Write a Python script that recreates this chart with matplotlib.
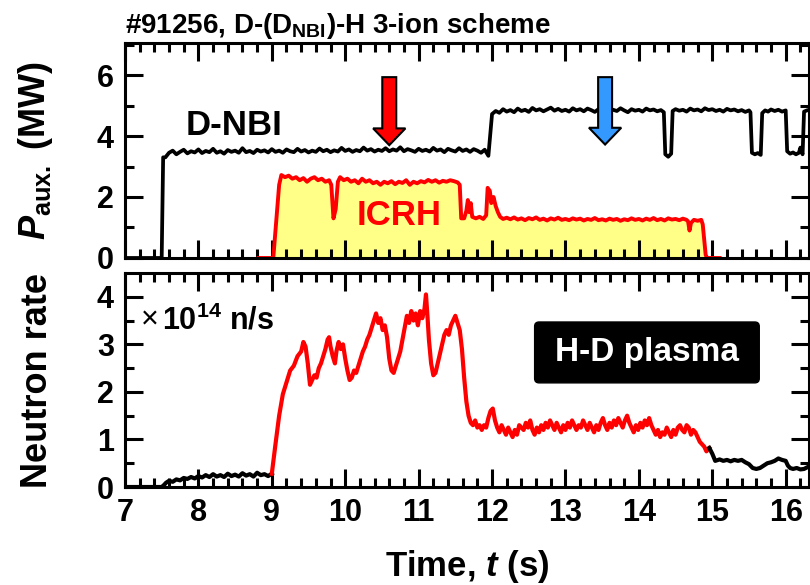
import numpy as np
import matplotlib
matplotlib.use("Agg")
import matplotlib.pyplot as plt
from matplotlib.patches import FancyArrow, FancyBboxPatch

plt.rcParams['font.family'] = ['Liberation Sans', 'DejaVu Sans']
plt.rcParams['font.weight'] = 'bold'
plt.rcParams['axes.labelweight'] = 'bold'
plt.rcParams['axes.titleweight'] = 'bold'
plt.rcParams['mathtext.fontset'] = 'custom'
plt.rcParams['mathtext.rm'] = 'Liberation Sans:bold'
plt.rcParams['mathtext.bf'] = 'Liberation Sans:bold'
plt.rcParams['mathtext.it'] = 'Liberation Sans:italic:bold'

# D-NBI power (MW)
nbi_t = [7.0, 7.5, 7.52,
         7.55, 7.60, 7.65, 7.70, 7.75, 7.80, 7.85, 7.90, 7.95, 8.00, 8.05, 8.10, 8.15, 8.20, 8.25, 8.30,
         8.35, 8.40, 8.45, 8.50, 8.55, 8.60, 8.65, 8.70, 8.75, 8.80, 8.85, 8.90, 8.95, 9.00, 9.05, 9.10,
         9.15, 9.20, 9.25, 9.30, 9.35, 9.40, 9.45, 9.50, 9.55, 9.60, 9.65, 9.70, 9.75, 9.80, 9.85, 9.90,
         9.95, 10.00, 10.05, 10.10, 10.15, 10.20, 10.25, 10.30, 10.35, 10.40, 10.45, 10.50, 10.55, 10.60,
         10.65, 10.70, 10.75, 10.80, 10.85, 10.90, 10.95, 11.00, 11.05, 11.10, 11.15, 11.20, 11.25, 11.30,
         11.35, 11.40, 11.45, 11.50, 11.55, 11.60, 11.65, 11.70, 11.75, 11.80, 11.85, 11.90, 11.95,
         12.00, 12.05, 12.10, 12.15, 12.20, 12.25, 12.30, 12.35, 12.40, 12.45, 12.50, 12.55, 12.60, 12.65,
         12.70, 12.75, 12.80, 12.85, 12.90, 12.95, 13.00, 13.05, 13.10, 13.15, 13.20, 13.25, 13.30, 13.35,
         13.40, 13.45, 13.50, 13.55, 13.60, 13.65, 13.70, 13.75, 13.80, 13.85, 13.90, 13.95, 14.00, 14.05,
         14.10, 14.15, 14.20, 14.25, 14.30, 14.34, 14.36, 14.40, 14.44, 14.46, 14.50, 14.55, 14.60, 14.65,
         14.70, 14.75, 14.80, 14.85, 14.90, 14.95, 15.00, 15.05, 15.10, 15.15, 15.20, 15.25, 15.30, 15.35,
         15.40, 15.45, 15.50, 15.52, 15.54, 15.58, 15.62, 15.66, 15.68, 15.72, 15.76, 15.80, 15.85, 15.90,
         15.95, 16.00, 16.02, 16.06, 16.10, 16.14, 16.18, 16.20, 16.23, 16.25, 16.30, 16.35]
nbi_p = [0.0, 0.0, 3.30,
         3.30, 3.45, 3.52, 3.40, 3.48, 3.55, 3.43, 3.50, 3.46, 3.56, 3.44, 3.51, 3.47, 3.58, 3.45, 3.50,
         3.42, 3.54, 3.48, 3.52, 3.45, 3.60, 3.47, 3.51, 3.44, 3.55, 3.49, 3.53, 3.46, 3.57, 3.48, 3.52,
         3.45, 3.56, 3.50, 3.47, 3.58, 3.49, 3.54, 3.46, 3.52, 3.48, 3.59, 3.50, 3.55, 3.47, 3.53, 3.49,
         3.61, 3.51, 3.56, 3.48, 3.54, 3.50, 3.62, 3.52, 3.57, 3.49, 3.55, 3.51, 3.60, 3.50,
         3.56, 3.52, 3.63, 3.50, 3.57, 3.53, 3.48, 3.58, 3.51, 3.55, 3.49, 3.61, 3.52, 3.56,
         3.47, 3.58, 3.53, 3.49, 3.60, 3.51, 3.56, 3.48, 3.57, 3.52, 3.45, 3.55, 3.35,
         4.72, 4.82, 4.76, 4.88, 4.80, 4.85, 4.78, 4.90, 4.82, 4.86, 4.79, 4.92, 4.84, 4.88,
         4.81, 4.87, 4.93, 4.83, 4.89, 4.82, 4.86, 4.80, 4.91, 4.84, 4.88, 4.81, 4.90, 4.85,
         4.79, 4.88, 4.83, 4.87, 4.80, 4.86, 4.82, 4.91, 4.84, 4.78, 4.88, 4.83, 4.86, 4.80,
         4.90, 4.84, 4.87, 4.81, 4.85, 4.78, 3.40, 3.32, 3.42, 4.82, 4.88, 4.83, 4.86, 4.80,
         4.90, 4.84, 4.87, 4.81, 4.91, 4.85, 4.88, 4.82, 4.86, 4.80, 4.89, 4.84, 4.87, 4.81,
         4.85, 4.79, 4.84, 4.78, 3.45, 3.40, 3.44, 3.38, 4.75, 4.84, 4.80, 4.87, 4.82, 4.86,
         4.80, 4.84, 3.50, 3.42, 3.46, 3.40, 3.45, 3.62, 3.40, 4.80, 4.85, 4.82]

# ICRH power (MW)
icrh_t = [8.82, 9.02, 9.06, 9.10, 9.13, 9.18, 9.23, 9.28, 9.33, 9.38, 9.43, 9.48, 9.53, 9.58, 9.63,
          9.68, 9.73, 9.78, 9.81, 9.84, 9.87, 9.90, 9.93, 9.98, 10.03, 10.08, 10.13, 10.18, 10.23,
          10.28, 10.33, 10.38, 10.43, 10.48, 10.53, 10.58, 10.63, 10.68, 10.73, 10.78, 10.83, 10.88,
          10.93, 10.98, 11.03, 11.08, 11.13, 11.18, 11.23, 11.28, 11.33, 11.38, 11.43, 11.48, 11.53,
          11.56, 11.58, 11.62, 11.65, 11.67, 11.69, 11.71, 11.73, 11.78, 11.83, 11.88, 11.92, 11.94,
          11.97, 11.99, 12.02, 12.05, 12.08, 12.11, 12.15,
          12.20, 12.25, 12.30, 12.35, 12.40, 12.45, 12.50, 12.55, 12.60, 12.65, 12.70, 12.75, 12.80,
          12.85, 12.90, 12.95, 13.00, 13.05, 13.10, 13.15, 13.20, 13.25, 13.30, 13.35, 13.40, 13.45,
          13.50, 13.55, 13.60, 13.65, 13.70, 13.75, 13.80, 13.85, 13.90, 13.95, 14.00, 14.05, 14.10,
          14.15, 14.20, 14.25, 14.30, 14.35, 14.40, 14.45, 14.50, 14.55, 14.60, 14.65,
          14.67, 14.69, 14.71, 14.75, 14.80, 14.85, 14.87, 14.91, 14.93, 15.10]
icrh_p = [0.0, 0.0, 1.20, 2.40, 2.72, 2.65, 2.70, 2.60, 2.65, 2.55, 2.62, 2.50, 2.60, 2.65, 2.55,
          2.60, 2.50, 2.55, 2.40, 1.30, 1.60, 2.50, 2.65, 2.55, 2.60, 2.50, 2.55, 2.45, 2.60,
          2.50, 2.55, 2.45, 2.50, 2.40, 2.50, 2.45, 2.52, 2.42, 2.50, 2.46, 2.55, 2.40,
          2.50, 2.45, 2.52, 2.48, 2.56, 2.50, 2.55, 2.47, 2.53, 2.50, 2.55, 2.52, 2.48,
          2.40, 1.30, 1.30, 1.55, 1.90, 1.50, 1.80, 1.35, 1.30, 1.35, 1.28, 1.40, 2.30,
          2.20, 1.80, 2.00, 1.70, 1.50, 1.35, 1.28,
          1.32, 1.27, 1.33, 1.26, 1.30, 1.24, 1.31, 1.27, 1.33, 1.25, 1.29, 1.23, 1.30,
          1.26, 1.32, 1.25, 1.28, 1.24, 1.30, 1.26, 1.29, 1.23, 1.28, 1.25, 1.31, 1.24,
          1.27, 1.23, 1.29, 1.25, 1.28, 1.22, 1.27, 1.24, 1.30, 1.25, 1.28, 1.23, 1.29,
          1.25, 1.31, 1.24, 1.28, 1.23, 1.30, 1.26, 1.28, 1.24, 1.29, 1.25,
          1.20, 0.90, 1.15, 1.25, 1.22, 1.25, 1.10, 0.10, 0.0, 0.0]

# neutron rate (1e14 n/s): before ICRH, during ICRH, after ICRH
n_pre_t = [7.0, 7.5, 7.53, 7.56, 7.60, 7.65, 7.70, 7.75, 7.80, 7.85, 7.90, 7.95, 8.00, 8.05, 8.10,
           8.15, 8.20, 8.25, 8.30, 8.35, 8.40, 8.45, 8.50, 8.55, 8.60, 8.65, 8.70, 8.75, 8.80, 8.85,
           8.90, 8.95, 9.00]
n_pre = [0.0, 0.0, 0.04, 0.09, 0.13, 0.11, 0.16, 0.14, 0.19, 0.17, 0.21, 0.18, 0.23, 0.20, 0.25,
         0.21, 0.27, 0.22, 0.25, 0.21, 0.28, 0.23, 0.26, 0.22, 0.29, 0.24, 0.27, 0.22, 0.30, 0.25,
         0.27, 0.23, 0.28]

n_rf_t = [9.00, 9.05, 9.10, 9.15, 9.20, 9.25, 9.30, 9.35, 9.40, 9.43, 9.46, 9.49, 9.52, 9.55, 9.58,
          9.61, 9.64, 9.67, 9.70, 9.73, 9.76, 9.78, 9.80, 9.83, 9.86, 9.88, 9.91, 9.94, 9.97, 10.00,
          10.03, 10.06, 10.09, 10.12, 10.15, 10.18, 10.21, 10.24, 10.27, 10.30, 10.33, 10.36, 10.39,
          10.42, 10.45, 10.48, 10.51, 10.54, 10.57, 10.60, 10.63, 10.66, 10.69, 10.72, 10.75, 10.78,
          10.81, 10.84, 10.87, 10.90, 10.93, 10.96, 10.99, 11.02, 11.05, 11.08, 11.10, 11.12, 11.14,
          11.17, 11.20, 11.23, 11.26, 11.29, 11.32, 11.35, 11.38, 11.41, 11.44, 11.47, 11.50, 11.53,
          11.56, 11.59, 11.62, 11.65, 11.68, 11.71, 11.74, 11.77, 11.80, 11.83, 11.86, 11.89, 11.92,
          11.95, 11.98, 12.01, 12.04, 12.07, 12.10, 12.13, 12.16, 12.19, 12.22, 12.25, 12.28, 12.31,
          12.34, 12.37, 12.40, 12.43, 12.46, 12.49, 12.52, 12.55, 12.58, 12.61, 12.64, 12.67, 12.70,
          12.73, 12.76, 12.79, 12.82, 12.85, 12.88, 12.91, 12.94, 12.97, 13.00, 13.03, 13.06, 13.09,
          13.12, 13.15, 13.18, 13.21, 13.24, 13.27, 13.30, 13.33, 13.36, 13.39, 13.42, 13.45, 13.48,
          13.51, 13.54, 13.57, 13.60, 13.63, 13.66, 13.69, 13.72, 13.75, 13.78, 13.81, 13.84, 13.87,
          13.90, 13.93, 13.96, 13.99, 14.02, 14.05, 14.08, 14.11, 14.14, 14.17, 14.20, 14.23, 14.26,
          14.29, 14.32, 14.35, 14.38, 14.41, 14.44, 14.47, 14.50, 14.53, 14.56, 14.59, 14.62, 14.65,
          14.68, 14.71, 14.74, 14.77, 14.80, 14.83, 14.86, 14.89, 14.92, 14.96]
n_rf = [0.28, 0.90, 1.50, 1.95, 2.20, 2.45, 2.55, 2.75, 2.85, 3.05, 2.95, 2.60, 2.15, 2.25, 2.35,
        2.30, 2.50, 2.60, 2.75, 2.90, 3.10, 3.15, 2.95, 2.75, 2.60, 2.85, 3.05, 2.90, 3.00, 2.70,
        2.45, 2.25, 2.30, 2.45, 2.40, 2.55, 2.70, 2.85, 2.95, 3.10, 3.20, 3.35, 3.50,
        3.65, 3.45, 3.55, 3.30, 3.40, 3.15, 2.70, 2.45, 2.40, 2.55, 2.70, 2.85, 3.10,
        3.35, 3.60, 3.45, 3.70, 3.50, 3.65, 3.40, 3.70, 3.55, 3.75, 4.05, 3.60, 3.10,
        2.60, 2.35, 2.40, 2.60, 2.80, 3.00, 3.20, 3.30, 3.20, 3.40, 3.50, 3.60, 3.45,
        3.30, 2.90, 2.30, 1.80, 1.50, 1.35, 1.30, 1.40, 1.25, 1.30, 1.20, 1.30, 1.25,
        1.45, 1.60, 1.65, 1.40, 1.25, 1.15, 1.30, 1.20, 1.10, 1.25, 1.15, 1.05, 1.20,
        1.10, 1.30, 1.25, 1.20, 1.35, 1.25, 1.40, 1.20, 1.10, 1.25, 1.15, 1.30, 1.20,
        1.35, 1.25, 1.40, 1.30, 1.20, 1.35, 1.25, 1.15, 1.30, 1.20, 1.35, 1.25, 1.40,
        1.30, 1.20, 1.30, 1.25, 1.40, 1.30, 1.20, 1.35, 1.25, 1.15, 1.30, 1.20, 1.35,
        1.45, 1.30, 1.20, 1.35, 1.25, 1.40, 1.30, 1.45, 1.35, 1.25, 1.40, 1.50, 1.35,
        1.25, 1.15, 1.30, 1.20, 1.35, 1.25, 1.40, 1.30, 1.45, 1.30, 1.20, 1.10, 1.20,
        1.05, 1.15, 1.10, 1.25, 1.15, 1.05, 1.20, 1.10, 1.25, 1.30, 1.20, 1.15, 1.30,
        1.25, 1.10, 1.20, 1.15, 1.05, 0.95, 0.90, 0.85, 0.75, 0.82]

n_post_t = [14.96, 15.00, 15.04, 15.10, 15.15, 15.20, 15.25, 15.30, 15.35, 15.40, 15.45, 15.50,
            15.55, 15.60, 15.65, 15.70, 15.75, 15.80, 15.85, 15.90, 15.95, 16.00, 16.03, 16.06,
            16.10, 16.15, 16.20, 16.25, 16.30, 16.35]
n_post = [0.82, 0.70, 0.55, 0.58, 0.55, 0.57, 0.54, 0.57, 0.55, 0.57, 0.52, 0.48,
          0.40, 0.38, 0.40, 0.45, 0.50, 0.52, 0.55, 0.60, 0.57, 0.55, 0.45, 0.40,
          0.38, 0.40, 0.37, 0.38, 0.42, 0.45]


def style_axes(ax, ymax, ymajor, yminor):
    ax.set_xlim(7, 16.32)
    ax.set_ylim(0, ymax)
    ax.set_xticks(np.arange(7, 17, 1))
    ax.set_xticks(np.arange(7, 16.4, 0.2), minor=True)
    ax.set_yticks(np.arange(0, ymax, ymajor))
    ax.set_yticks(np.arange(0, ymax, yminor), minor=True)
    ax.tick_params(which='both', direction='in', top=True, right=True, width=2.2, labelsize=22)
    ax.tick_params(which='major', length=13, pad=8)
    ax.tick_params(which='minor', length=6.5)
    for s in ax.spines.values():
        s.set_linewidth(2.2)


fig = plt.figure(figsize=(8.1, 5.85), dpi=100)
ax1 = fig.add_axes([0.1543, 0.559, 0.8447, 0.3675])
ax2 = fig.add_axes([0.1543, 0.1675, 0.8447, 0.3658])

# top: auxiliary heating
style_axes(ax1, 7.05, 2, 1)
ax1.tick_params(labelbottom=False)
ax1.fill_between(icrh_t, icrh_p, 0, color='#ffff88', lw=0)
ax1.plot(icrh_t, icrh_p, color='#ff0000', lw=2.8, clip_on=False)
ax1.plot(nbi_t, nbi_p, color='black', lw=2.7)
ax1.text(7.82, 4.35, 'D-NBI', fontsize=25, va='center', ha='left')
ax1.text(10.74, 1.4, 'ICRH', fontsize=25, color='#ff0000', va='center', ha='center')
ax1.add_patch(FancyArrow(10.6, 5.93, 0, 3.7 - 5.93, width=0.19, head_width=0.44, head_length=0.55,
                         length_includes_head=True, fc='#ff0000', ec='black', lw=1.5, zorder=5))
ax1.add_patch(FancyArrow(13.54, 5.93, 0, 3.72 - 5.93, width=0.19, head_width=0.44, head_length=0.55,
                         length_includes_head=True, fc='#3399ff', ec='black', lw=1.5, zorder=5))
ax1.set_ylabel(r'$P_{\rm aux.}$ (MW)', fontsize=26, labelpad=30)
ax1.set_title(r'#91256, D-(D$_{\rm NBI}$)-H 3-ion scheme', fontsize=20, loc='left', x=0.0, pad=7)

# bottom: neutron rate
style_axes(ax2, 4.5, 1, 0.5)
ax2.plot(n_pre_t, n_pre, color='black', lw=3)
ax2.plot(n_rf_t, n_rf, color='#ff0000', lw=3)
ax2.plot(n_post_t, n_post, color='black', lw=3)
ax2.text(7.34, 3.5, '\u00d7', fontsize=22, fontweight='normal', ha='center', va='center')
ax2.text(7.5, 3.5, r'10$^{\rm 14}$ n/s', fontsize=22, ha='left', va='center')
box = FancyBboxPatch((12.58, 2.19), 3.06, 1.28, boxstyle='round,pad=0,rounding_size=0.06',
                     mutation_aspect=1.55, fc='black', ec='black', zorder=4)
ax2.add_patch(box)
ax2.text(14.11, 2.83, 'H-D plasma', fontsize=24, color='white', ha='center', va='center', zorder=5)
ax2.set_ylabel('Neutron rate', fontsize=26, labelpad=30)
ax2.set_xlabel(r'Time, $t$ (s)', fontsize=25, labelpad=14)

fig.align_ylabels([ax1, ax2])
fig.savefig('out.png', dpi=100)
